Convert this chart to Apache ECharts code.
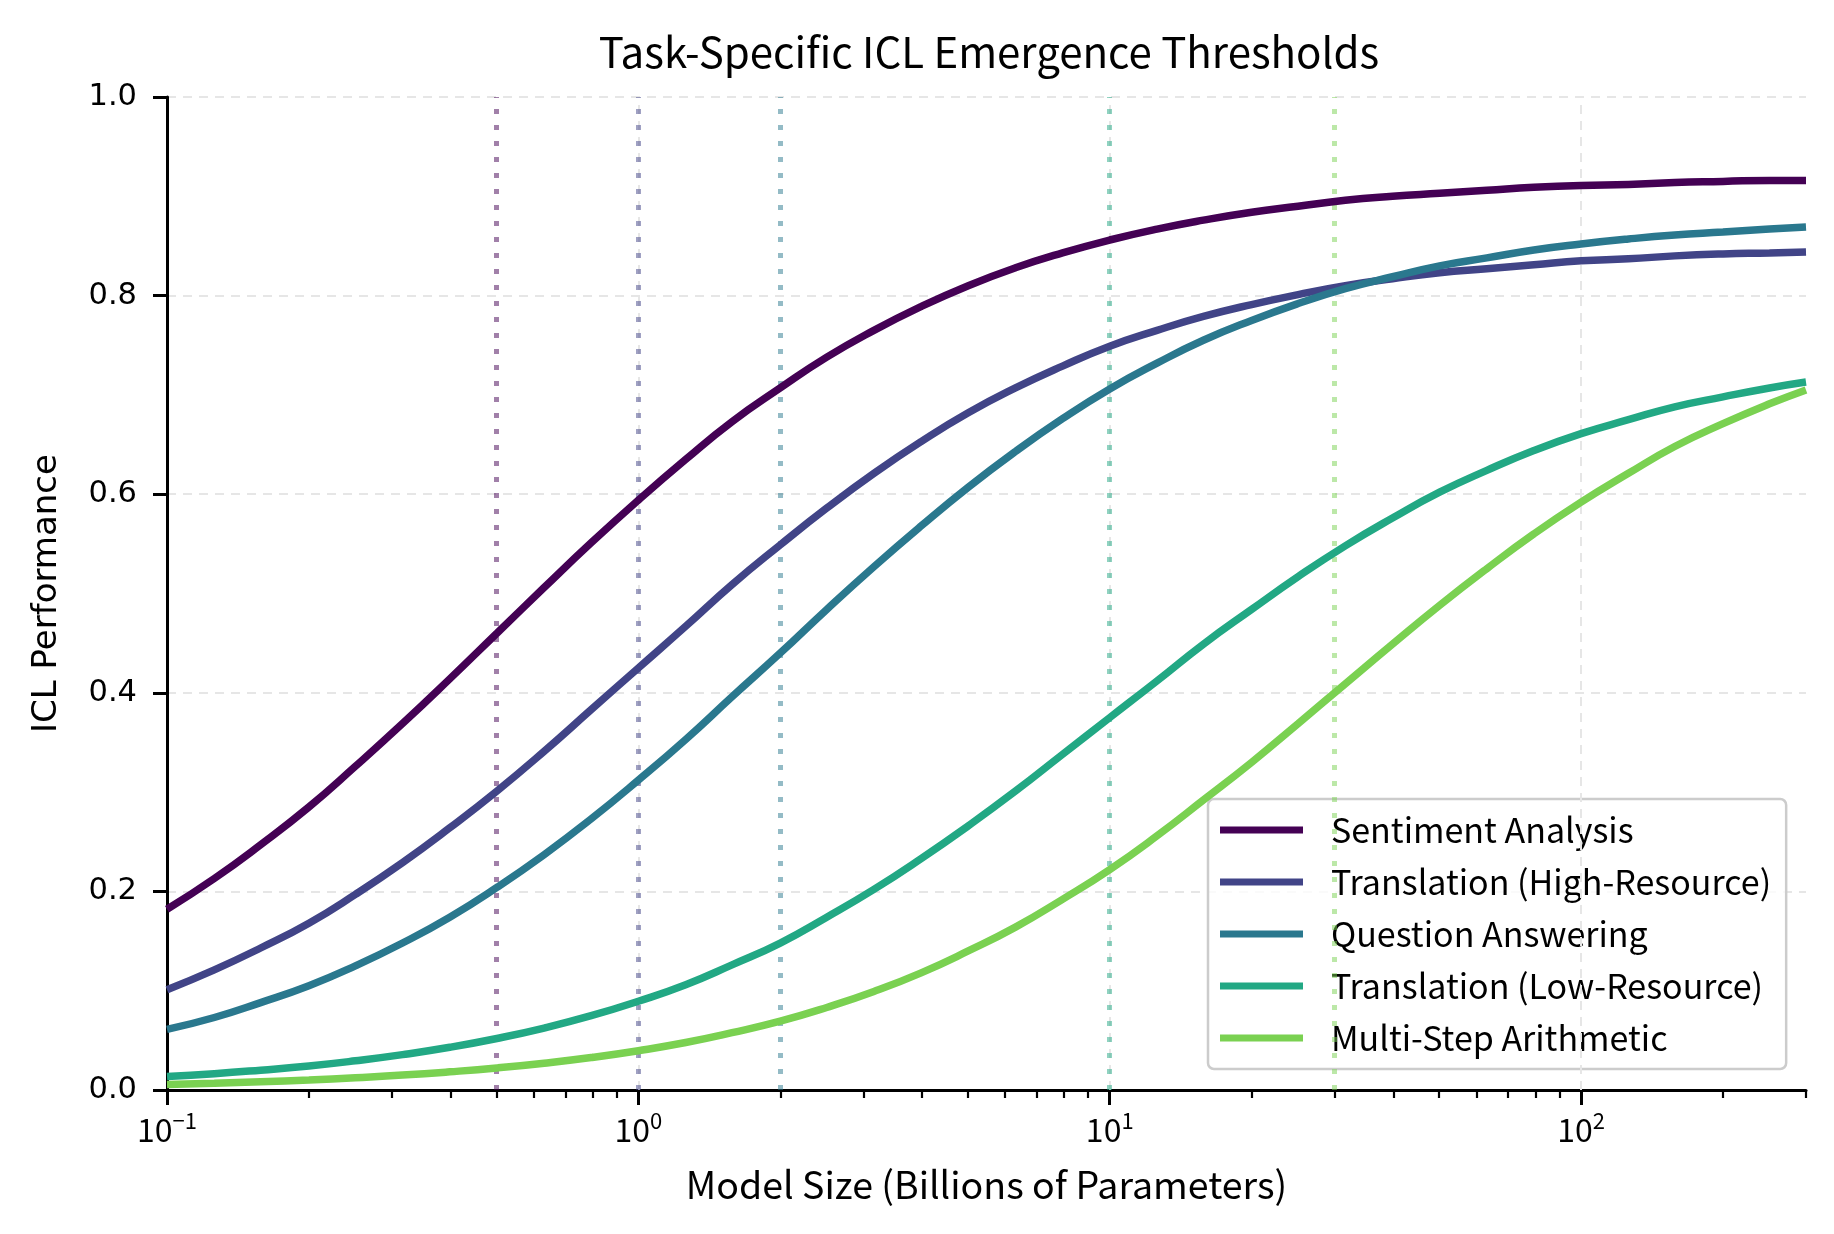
<!DOCTYPE html>
<html>
<head>
<meta charset="utf-8">
<script src="https://cdn.jsdelivr.net/npm/echarts@6/dist/echarts.min.js"></script>
<style>
html,body{margin:0;padding:0;background:#fff;}
#c{width:1834px;height:1234px;}
</style>
</head>
<body>
<div id="c"></div>
<script>
const modelSizes = [0.1, 0.126, 0.158, 0.2, 0.251, 0.316, 0.398, 0.501, 0.631, 0.794, 1, 1.26, 1.58, 2, 2.51, 3.16, 3.98, 5.01, 6.31, 7.94, 10, 12.6, 15.8, 20, 25.1, 31.6, 39.8, 50.1, 63.1, 79.4, 100, 126, 158, 200, 251, 300];
const seriesNames = ['Sentiment Analysis', 'Translation (High-Resource)', 'Question Answering', 'Translation (Low-Resource)', 'Multi-Step Arithmetic'];
const sentiment = [0.182, 0.213, 0.247, 0.285, 0.326, 0.369, 0.414, 0.460, 0.506, 0.551, 0.594, 0.635, 0.673, 0.707, 0.738, 0.765, 0.789, 0.810, 0.828, 0.843, 0.856, 0.867, 0.876, 0.884, 0.890, 0.896, 0.900, 0.903, 0.906, 0.909, 0.911, 0.912, 0.914, 0.915, 0.916, 0.916];
const translationHigh = [0.101, 0.121, 0.143, 0.168, 0.197, 0.229, 0.264, 0.301, 0.341, 0.383, 0.425, 0.467, 0.509, 0.549, 0.586, 0.621, 0.653, 0.682, 0.707, 0.729, 0.749, 0.765, 0.779, 0.791, 0.801, 0.810, 0.817, 0.823, 0.827, 0.831, 0.835, 0.837, 0.840, 0.842, 0.843, 0.844];
const questionAnswering = [0.061, 0.073, 0.088, 0.105, 0.125, 0.148, 0.174, 0.204, 0.237, 0.273, 0.312, 0.353, 0.396, 0.440, 0.484, 0.527, 0.568, 0.607, 0.643, 0.676, 0.706, 0.732, 0.755, 0.775, 0.792, 0.807, 0.819, 0.830, 0.838, 0.846, 0.852, 0.857, 0.861, 0.864, 0.867, 0.869];
const translationLow = [0.0135, 0.0164, 0.0200, 0.0242, 0.0294, 0.0356, 0.0430, 0.0519, 0.0624, 0.0748, 0.0894, 0.106, 0.126, 0.148, 0.174, 0.202, 0.233, 0.266, 0.301, 0.338, 0.375, 0.412, 0.449, 0.484, 0.517, 0.548, 0.576, 0.602, 0.624, 0.644, 0.661, 0.675, 0.688, 0.698, 0.707, 0.713];
const arithmetic = [0.0056, 0.0068, 0.0083, 0.0101, 0.0124, 0.0150, 0.0183, 0.0222, 0.0270, 0.0327, 0.0396, 0.0478, 0.0577, 0.0693, 0.0831, 0.0992, 0.118, 0.140, 0.164, 0.192, 0.222, 0.256, 0.292, 0.330, 0.369, 0.409, 0.449, 0.488, 0.525, 0.560, 0.592, 0.621, 0.648, 0.671, 0.691, 0.705];
const thresholds = [0.5, 1, 2, 10, 30];
const yTicks = [0, 0.2, 0.4, 0.6, 0.8, 1.0];
const xMajorTicks = [0.1, 1, 10, 100];
const xMinorTicks = [0.2, 0.3, 0.4, 0.5, 0.6, 0.7, 0.8, 0.9, 2, 3, 4, 5, 6, 7, 8, 9, 20, 30, 40, 50, 60, 70, 80, 90, 200, 300];
const xGridLines = [1, 10, 100];

const colors = ['#440154', '#414487', '#2a788e', '#22a884', '#7ad151'];
const thrColors = ['rgba(68,1,84,0.5)', 'rgba(65,68,135,0.5)', 'rgba(42,120,142,0.5)', 'rgba(34,168,132,0.5)', 'rgba(122,209,81,0.5)'];
const values = [sentiment, translationHigh, questionAnswering, translationLow, arithmetic];
const NARROW = '"Noto Sans CJK KR", "Noto Sans", sans-serif';
const DEJAVU = '"DejaVu Sans", sans-serif';

const chart = echarts.init(document.getElementById('c'), null, {renderer: 'canvas'});

const curveSeries = seriesNames.map((name, i) => ({
  name: name,
  type: 'line',
  smooth: true,
  showSymbol: false,
  symbol: 'none',
  z: 5,
  color: colors[i],
  lineStyle: {color: colors[i], width: 7.5},
  data: modelSizes.map((x, j) => [x, values[i][j]])
}));

const markSeries = {
  type: 'line',
  name: '__marks',
  data: [],
  z: 1,
  silent: true,
  markLine: {
    silent: true,
    symbol: ['none', 'none'],
    label: {show: false},
    animation: false,
    data: xGridLines.map(v => ({xAxis: v, lineStyle: {color: '#e6e6e6', width: 2, type: [9, 7]}}))
      .concat(thresholds.map((v, i) => ({xAxis: v, lineStyle: {color: thrColors[i], width: 5, type: [5, 11], cap: 'butt'}})))
  }
};

const option = {
  animation: false,
  backgroundColor: '#ffffff',
  title: {
    text: 'Task-Specific ICL Emergence Thresholds',
    left: 984, top: 26, textAlign: 'center',
    textStyle: {fontFamily: NARROW, fontSize: 42, fontWeight: 'normal', color: '#000'}
  },
  grid: {left: 167, right: 28, top: 97, bottom: 144, containLabel: false},
  legend: {
    data: seriesNames,
    orient: 'vertical',
    left: 1208, top: 799,
    padding: [14, 15, 14, 12],
    itemWidth: 83, itemHeight: 7, itemGap: 18,
    icon: 'rect',
    backgroundColor: 'rgba(255,255,255,0.8)',
    borderColor: '#cccccc', borderWidth: 2.5, borderRadius: 6,
    textStyle: {fontFamily: NARROW, fontSize: 34, lineHeight: 34, color: '#000', padding: [0, 0, 0, 23]}
  },
  xAxis: [{
    type: 'log', logBase: 10, min: 0.1, max: 300,
    position: 'bottom',
    name: 'Model Size (Billions of Parameters)',
    nameLocation: 'middle', nameGap: 76,
    nameTextStyle: {fontFamily: NARROW, fontSize: 37.5, color: '#000'},
    axisLine: {show: true, lineStyle: {color: '#000', width: 3}},
    axisTick: {show: true, inside: false, length: 15, lineStyle: {color: '#000', width: 3}, customValues: xMajorTicks},
    axisLabel: {
      customValues: xMajorTicks,
      margin: 20,
      formatter: function (v) {
        const e = Math.round(Math.log10(v));
        return '{b|10}{s|' + (e < 0 ? '\u2212' : '') + Math.abs(e) + '}';
      },
      rich: {
        b: {fontFamily: NARROW, fontSize: 32, color: '#000', verticalAlign: 'bottom', lineHeight: 36},
        s: {fontFamily: NARROW, fontSize: 22, color: '#000', verticalAlign: 'top', lineHeight: 22}
      }
    },
    splitLine: {show: false},
    minorTick: {show: false}
  }, {
    type: 'log', logBase: 10, min: 0.1, max: 300,
    position: 'bottom', offset: 0,
    axisLine: {show: false},
    axisTick: {show: true, inside: false, length: 8, lineStyle: {color: '#000', width: 2.2}, customValues: xMinorTicks},
    axisLabel: {show: false},
    splitLine: {show: false}
  }],
  yAxis: {
    type: 'value', min: 0, max: 1, interval: 0.2,
    name: 'ICL Performance',
    nameLocation: 'middle', nameGap: 103,
    nameTextStyle: {fontFamily: DEJAVU, fontSize: 34, color: '#000'},
    axisLine: {show: true, lineStyle: {color: '#000', width: 3}},
    axisTick: {show: true, inside: false, length: 14, lineStyle: {color: '#000', width: 3}},
    axisLabel: {
      margin: 30,
      fontFamily: DEJAVU, fontSize: 30.5, color: '#000',
      formatter: v => yTicks.indexOf(Math.round(v * 10) / 10) >= 0 ? v.toFixed(1) : ''
    },
    splitLine: {show: true, lineStyle: {color: '#e6e6e6', width: 2, type: [9, 7]}}
  },
  series: [markSeries].concat(curveSeries)
};
chart.setOption(option);
</script>
</body>
</html>
